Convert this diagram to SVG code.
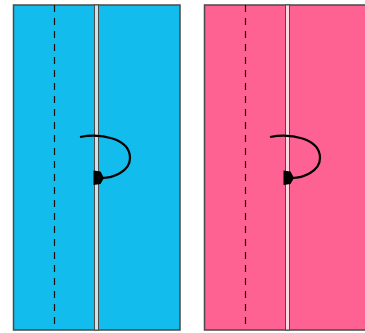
<svg xmlns="http://www.w3.org/2000/svg" width="365" height="333" viewBox="0 0 365 333">
<defs>
<style>
.panel{stroke:#4a4a4a;stroke-width:1.5}
.blue{fill:#12bcec}
.pink{fill:#fe6292}
.strip{stroke:#4a4a4a;stroke-width:1}
.fold{fill:none;stroke:#111;stroke-width:1.2;stroke-dasharray:7,6}
.arc{fill:none;stroke:#000;stroke-width:2.2}
</style>
</defs>
<g id="blue-sheet">
<rect class="panel blue" x="13.5" y="5" width="166.5" height="325"/>
<rect class="strip" x="94.5" y="5" width="4" height="325" fill="#cfe3ec"/>
<line class="fold" x1="54.5" y1="5" x2="54.5" y2="330"/>
</g>
<g id="pink-sheet">
<rect class="panel pink" x="204.5" y="5" width="170" height="325"/>
<rect class="strip" x="285.5" y="5" width="4" height="325" fill="#ffd6e2"/>
<line class="fold" x1="245.5" y1="5" x2="245.5" y2="330" stroke="#7a1c3c"/>
</g>
<g id="connectors">
<path class="arc" d="M80,137 C100,133 130,138 130,158 C130,172 112,178 102,178"/>
<path d="M93.5,170.5 L100.5,171.5 L104,178 L100.5,184 L93.5,185 Z" fill="#000"/>
<path class="arc" d="M270,137 C290,133 320,138 320,158 C320,172 302,178 292,178"/>
<path d="M283.5,170.5 L290.5,171.5 L294,178 L290.5,184 L283.5,185 Z" fill="#000"/>
</g>
</svg>
